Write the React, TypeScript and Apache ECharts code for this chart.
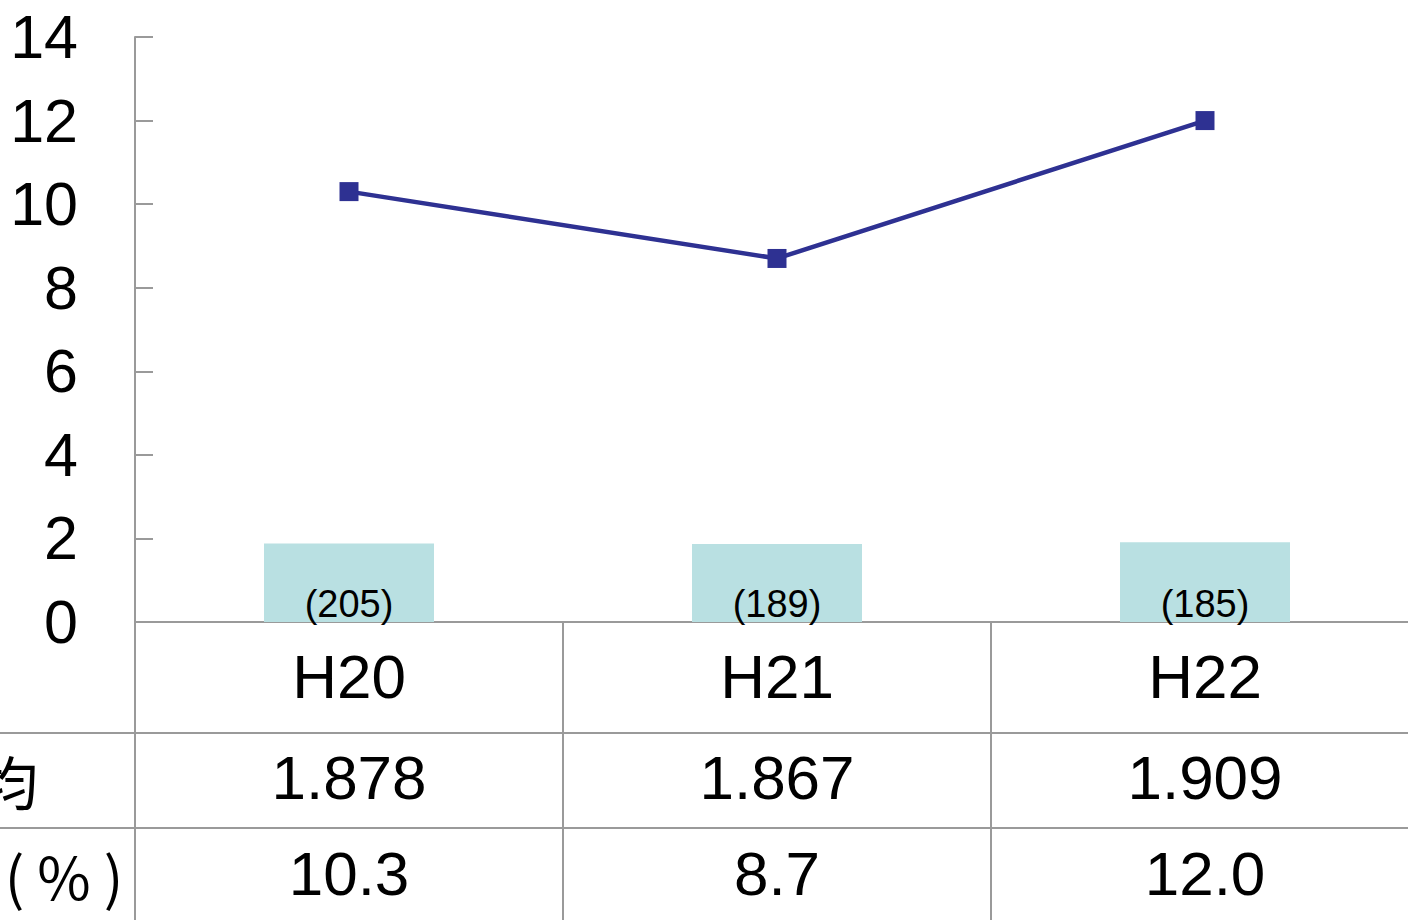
import React, { useEffect, useRef } from "react";
import * as echarts from "echarts";

const categories = ["H20", "H21", "H22"];
const avgValues = [1.878, 1.867, 1.909];
const avgLabels = ["1.878", "1.867", "1.909"];
const rateValues = [10.3, 8.7, 12.0];
const rateLabels = ["10.3", "8.7", "12.0"];
const countLabels = ["(205)", "(189)", "(185)"];
const rowTitles = ["平均", "( % )"];
const yMin = 0;
const yMax = 14;
const yInterval = 2;

const LINE = "#9a9a9a";
const SANS = "'Liberation Sans', Arial, sans-serif";
const CJK = "'Noto Sans CJK JP', sans-serif";

export default function App() {
  const ref = useRef<HTMLDivElement>(null);
  useEffect(() => {
    if (!ref.current) return;
    const chart = echarts.init(ref.current, null, { renderer: "svg" });
    const tableAxis = (data: string[], margin: number, show: boolean) => ({
      type: "category",
      data,
      gridIndex: 0,
      position: "bottom",
      boundaryGap: true,
      axisLine: show ? { show: true, lineStyle: { color: LINE, width: 2 } } : { show: false },
      axisTick: show
        ? { show: true, inside: false, length: 300, alignWithLabel: false, lineStyle: { color: LINE, width: 2 } }
        : { show: false },
      axisLabel: {
        show: true,
        margin,
        verticalAlign: "middle",
        color: "#000",
        fontSize: 62,
        fontFamily: SANS,
        interval: 0,
      },
      splitLine: { show: false },
    });
    chart.setOption({
      animation: false,
      backgroundColor: "#fff",
      grid: { left: 135, top: 37, height: 585, width: 1284, containLabel: false },
      xAxis: [
        tableAxis(categories, 54, true),
        tableAxis(avgLabels, 155, false),
        tableAxis(rateLabels, 251, false),
      ],
      yAxis: {
        type: "value",
        min: yMin,
        max: yMax,
        interval: yInterval,
        axisLine: { show: true, lineStyle: { color: LINE, width: 2 } },
        axisTick: { show: true, inside: true, length: 18, lineStyle: { color: LINE, width: 2 } },
        splitLine: { show: false },
        axisLabel: { color: "#000", fontSize: 61, fontFamily: SANS, margin: 57 },
      },
      series: [
        {
          type: "bar",
          xAxisIndex: 0,
          data: avgValues,
          barWidth: 170,
          itemStyle: { color: "#b9e0e2" },
          label: {
            show: true,
            position: "insideBottom",
            distance: -1,
            color: "#000",
            fontSize: 38,
            fontFamily: SANS,
            formatter: (p: any) => countLabels[p.dataIndex],
          },
          z: 2,
        },
        {
          type: "line",
          xAxisIndex: 0,
          data: rateValues,
          symbol: "rect",
          symbolSize: 19,
          lineStyle: { color: "#2e3192", width: 4.5 },
          itemStyle: { color: "#2e3192" },
          z: 3,
        },
      ],
      graphic: [
        { type: "line", shape: { x1: 0, y1: 733, x2: 1420, y2: 733 }, style: { stroke: LINE, lineWidth: 2 } },
        { type: "line", shape: { x1: 0, y1: 828, x2: 1420, y2: 828 }, style: { stroke: LINE, lineWidth: 2 } },
        {
          type: "text",
          x: 38,
          y: 780,
          style: { text: rowTitles[0], fill: "#000", font: `58px ${CJK}`, textAlign: "right", textVerticalAlign: "middle" },
        },
        {
          type: "text",
          x: 64,
          y: 875,
          style: { text: rowTitles[1], fill: "#000", font: `58px ${CJK}`, textAlign: "center", textVerticalAlign: "middle" },
        },
      ],
    });
    return () => chart.dispose();
  }, []);
  return (
    <div style={{ position: "fixed", left: 0, top: 0, width: 1408, height: 920, overflow: "hidden", background: "#fff" }}>
      <div ref={ref} style={{ width: 1420, height: 920 }} />
    </div>
  );
}
